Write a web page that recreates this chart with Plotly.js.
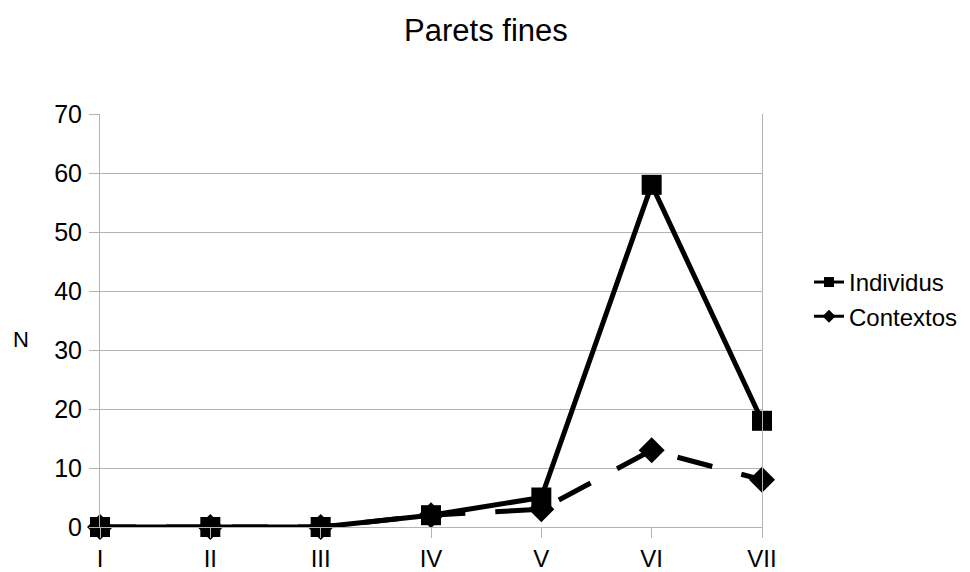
<!DOCTYPE html>
<html><head><meta charset="utf-8">
<script src="https://cdn.plot.ly/plotly-3.0.1.min.js"></script>
<style>body{margin:0;background:#fff}#c{width:970px;height:572px}</style>
</head><body><div id="c"></div>
<script>
const categories = ["I","II","III","IV","V","VI","VII"];
const individus = [0,0,0,2,5,58,18];
const contextos = [0,0,0,2,3,13,8];
const yTicks = [0,10,20,30,40,50,60,70];
const seriesNames = ["Individus","Contextos"];

const traces = [
  {x: categories, y: contextos, name: seriesNames[1], mode: "lines+markers", type: "scatter",
   showlegend: false, cliponaxis: false,
   line: {color: "#000", width: 5, dash: "36px,30px"},
   marker: {symbol: "diamond", size: 20, color: "#000"}},
  {x: categories, y: individus, name: seriesNames[0], mode: "lines+markers", type: "scatter",
   showlegend: false, cliponaxis: false,
   line: {color: "#000", width: 5},
   marker: {symbol: "square", size: 20, color: "#000"}},
  // legend entries (no data points)
  {x: [null], y: [null], name: seriesNames[0], mode: "lines+markers", type: "scatter",
   line: {color: "#000", width: 3}, marker: {symbol: "square", size: 10, color: "#000"}},
  {x: [null], y: [null], name: seriesNames[1], mode: "lines+markers", type: "scatter",
   line: {color: "#000", width: 3}, marker: {symbol: "diamond", size: 10, color: "#000"}}
];
const layout = {
  width: 970, height: 572,
  margin: {l: 100, r: 208, t: 114, b: 45, autoexpand: false},
  paper_bgcolor: "#fff", plot_bgcolor: "#fff",
  font: {family: "Liberation Sans, Arial, sans-serif", color: "#000"},
  title: {text: "Parets fines", x: 0.501, xanchor: "center", y: 0.947, yanchor: "middle",
    font: {size: 31, color: "#000"}},
  xaxis: {type: "category", range: [0, 6], showgrid: false, zeroline: false,
    showline: true, linecolor: "#b3b3b3", linewidth: 1,
    ticks: "outside", ticklen: 10, tickcolor: "#b3b3b3", tickfont: {size: 24},
    ticklabelstandoff: 0, fixedrange: true},
  yaxis: {range: [0, 70], tickvals: yTicks, showgrid: true, gridcolor: "#b3b3b3", gridwidth: 1, zeroline: false,
    showline: true, linecolor: "#b3b3b3", linewidth: 1, mirror: true,
    ticks: "outside", ticklen: 10, tickcolor: "#b3b3b3", tickfont: {size: 25}, ticklabelstandoff: 2},
  annotations: [{text: "N", xref: "paper", yref: "paper", x: -0.12, y: 0.455,
    xanchor: "center", yanchor: "middle", showarrow: false, font: {size: 22, color: "#000"}}],
  legend: {x: 1.071, y: 0.551, xanchor: "left", yanchor: "middle",
    font: {size: 24}, itemwidth: 30, tracegroupgap: 0, bgcolor: "rgba(0,0,0,0)"},
  showlegend: true
};
Plotly.newPlot("c", traces, layout, {displayModeBar: false, staticPlot: true});
</script></body></html>
